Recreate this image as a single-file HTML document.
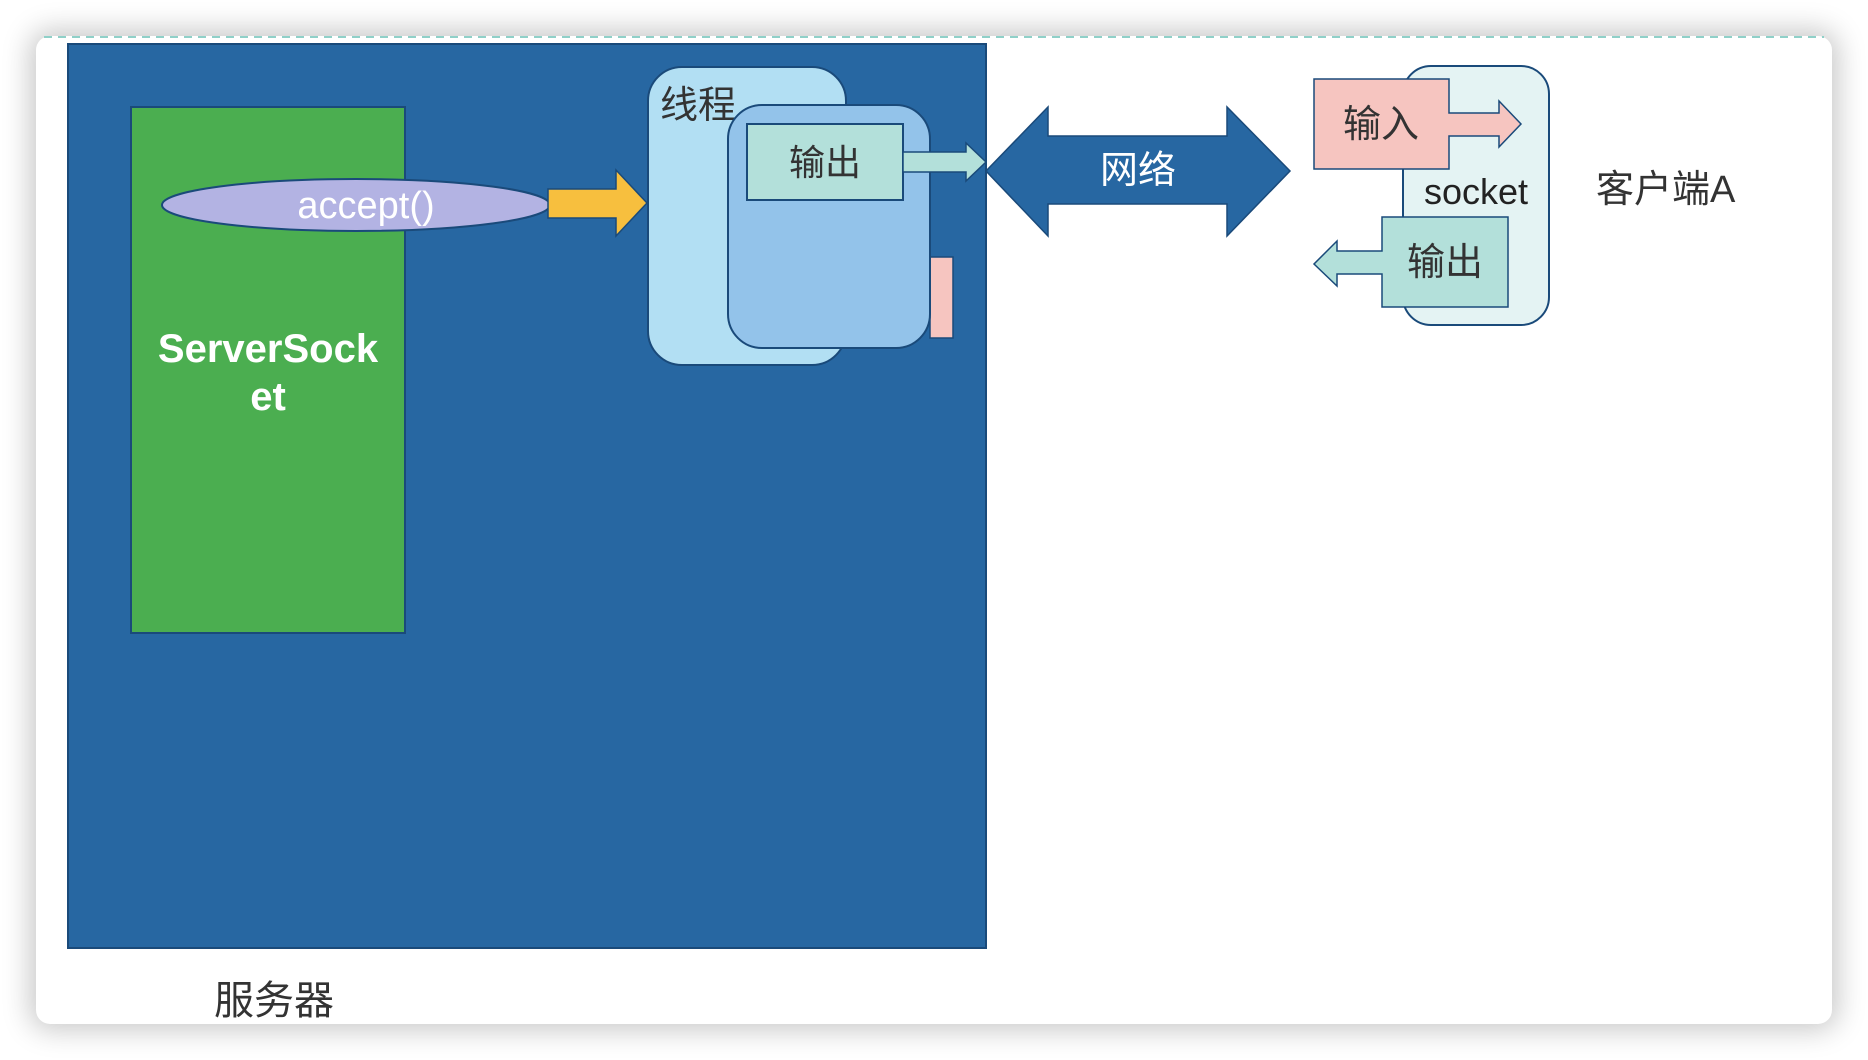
<!DOCTYPE html>
<html><head><meta charset="utf-8"><style>
html,body{margin:0;padding:0;background:#fff;}
body{width:1868px;height:1060px;overflow:hidden;position:relative;}
.card{position:absolute;left:36px;top:36px;width:1796px;height:988px;background:#fff;border-radius:14px;box-shadow:0 0 28px 6px rgba(0,0,0,0.22);}
svg{position:absolute;left:0;top:0;}
text{font-family:"Liberation Sans","Noto Sans CJK SC",sans-serif;}
</style></head><body>
<div class="card"></div>
<svg width="1868" height="1060" viewBox="0 0 1868 1060">
<line x1="44" y1="37" x2="1824" y2="37" stroke="#8fd0c8" stroke-width="2" stroke-dasharray="8,6"/>
<rect x="68" y="44" width="918" height="904" fill="#2767a2" stroke="#1a4a7a" stroke-width="2"/>
<rect x="131" y="107" width="274" height="526" fill="#4bae50" stroke="#1a4a7a" stroke-width="2"/>
<text x="268" y="362" font-size="40" font-weight="bold" fill="#fff" text-anchor="middle">ServerSock</text>
<text x="268" y="410" font-size="40" font-weight="bold" fill="#fff" text-anchor="middle">et</text>
<ellipse cx="356" cy="205" rx="194" ry="26" fill="#b3b3e3" stroke="#1a4a7a" stroke-width="2"/>
<text x="366" y="218" font-size="38" fill="#fff" text-anchor="middle">accept()</text>
<polygon points="548,189 616,189 616,170 647,203 616,236 616,218 548,218" fill="#f7bf3e" stroke="#1a4a7a" stroke-width="1.5"/>
<rect x="648" y="67" width="198" height="298" rx="34" fill="#b2dff3" stroke="#1a4a7a" stroke-width="2"/>
<text x="660" y="118" font-size="38" fill="#333">线程</text>
<rect x="930" y="257" width="23" height="81" fill="#f6c5c0" stroke="#1a4a7a" stroke-width="1.5"/>
<rect x="728" y="105" width="202" height="243" rx="34" fill="#93c3ea" stroke="#1a4a7a" stroke-width="2"/>
<rect x="747" y="124" width="156" height="76" fill="#b3e0da" stroke="#1a4a7a" stroke-width="2"/>
<text x="825" y="175" font-size="36" fill="#333" text-anchor="middle">输出</text>
<polygon points="903,152 966,152 966,143 986,162 966,181 966,172 903,172" fill="#b3e0da" stroke="#1a4a7a" stroke-width="1.5"/>
<polygon points="986,171 1048,107 1048,136 1227,136 1227,107 1290,171 1227,236 1227,204 1048,204 1048,236" fill="#2767a2" stroke="#1a4a7a" stroke-width="1.5"/>
<text x="1138" y="183" font-size="38" fill="#fff" text-anchor="middle">网络</text>
<rect x="1403" y="66" width="146" height="259" rx="28" fill="#e4f3f3" stroke="#1a4a7a" stroke-width="2"/>
<polygon points="1314,79 1449,79 1449,113 1499,113 1499,101 1521,124 1499,147 1499,136 1449,136 1449,169 1314,169" fill="#f6c5c0" stroke="#1a4a7a" stroke-width="1.5"/>
<text x="1381" y="137" font-size="38" fill="#333" text-anchor="middle">输入</text>
<text x="1476" y="204" font-size="36" fill="#222" text-anchor="middle">socket</text>
<polygon points="1508,217 1382,217 1382,251 1337,251 1337,241 1314,264 1337,286 1337,274 1382,274 1382,307 1508,307" fill="#b3e0da" stroke="#1a4a7a" stroke-width="1.5"/>
<text x="1445" y="275" font-size="38" fill="#333" text-anchor="middle">输出</text>
<text x="1596" y="202" font-size="38" fill="#333">客户端A</text>
<text x="214" y="1014" font-size="40" fill="#333">服务器</text>
</svg>
</body></html>
